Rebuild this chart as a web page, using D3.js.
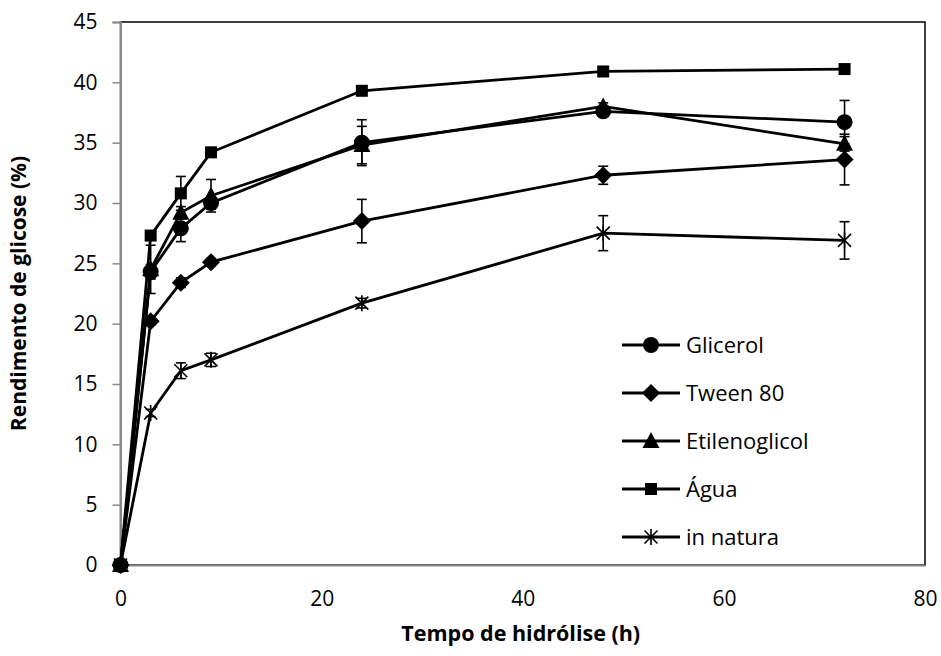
<!DOCTYPE html>
<html>
<head>
<meta charset="utf-8">
<script src="https://cdn.jsdelivr.net/npm/d3@7"></script>
<style>
  body { margin: 0; background: #fff; }
  svg text { font-family: "Open Sans", sans-serif; fill: #000; }
</style>
</head>
<body>
<div id="container"></div>
<script>
// hydrolysis time (h)
var hours = [0, 3, 6, 9, 24, 48, 72];

// glucose yield (%) and standard deviation per pretreatment
var glicerol      = [0, 24.3, 27.9, 30.0, 35.0, 37.6, 36.7];
var glicerolErr   = [0, 0.6, 1.1, 0.5, 1.9, 0.3, 1.8];
var tween         = [0, 20.2, 23.4, 25.1, 28.5, 32.3, 33.6];
var tweenErr      = [0, 0.3, 0.4, 0.3, 1.8, 0.75, 2.1];
var etileno       = [0, 24.5, 29.2, 30.6, 34.8, 38.0, 34.9];
var etilenoErr    = [0, 2.0, 0.5, 1.35, 1.55, 0.3, 0.6];
var agua          = [0, 27.3, 30.8, 34.2, 39.3, 40.9, 41.1];
var aguaErr       = [0, 0.3, 1.4, 0.2, 0.2, 0.2, 0.2];
var natura        = [0, 12.6, 16.1, 17.0, 21.7, 27.5, 26.9];
var naturaErr     = [0, 0.3, 0.65, 0.55, 0.4, 1.45, 1.55];

var seriesNames = ["Glicerol", "Tween 80", "Etilenoglicol", "Água", "in natura"];
var markers     = ["circle", "diamond", "triangle", "square", "star"];

var xTicks = [0, 20, 40, 60, 80];
var yTicks = [0, 5, 10, 15, 20, 25, 30, 35, 40, 45];

var series = [
  {name: seriesNames[0], marker: markers[0], y: glicerol, err: glicerolErr},
  {name: seriesNames[1], marker: markers[1], y: tween,    err: tweenErr},
  {name: seriesNames[2], marker: markers[2], y: etileno,  err: etilenoErr},
  {name: seriesNames[3], marker: markers[3], y: agua,     err: aguaErr},
  {name: seriesNames[4], marker: markers[4], y: natura,   err: naturaErr}
].map(function(s) {
  s.points = hours.map(function(h, i) { return {x: h, y: s.y[i], e: s.err[i]}; });
  return s;
});

var width = 941, height = 656;
var margin = {top: 22, right: 16, bottom: 91, left: 120.5};

var svg = d3.select("#container").append("svg")
  .attr("width", width)
  .attr("height", height);

var x = d3.scaleLinear().domain([0, 80]).range([margin.left, width - margin.right]);
var y = d3.scaleLinear().domain([0, 45]).range([height - margin.bottom, margin.top]);

var axisGray = "#888";

// plot area frame (top and right sides show black)
svg.append("rect")
  .attr("x", x(0)).attr("y", y(45))
  .attr("width", x(80) - x(0)).attr("height", y(0) - y(45))
  .attr("fill", "none").attr("stroke", "#000").attr("stroke-width", 1.5);

// y axis
var yAxis = svg.append("g")
  .attr("transform", "translate(" + x(0) + ",0)")
  .call(d3.axisLeft(y).tickValues(yTicks).tickSize(8).tickPadding(15));
yAxis.select(".domain").attr("stroke", axisGray).attr("stroke-width", 2);
yAxis.selectAll(".tick line").attr("stroke", axisGray).attr("stroke-width", 1.5);
yAxis.selectAll("text").style("font-size", "21px").attr("fill", "#000");

// x axis
var xAxis = svg.append("g")
  .attr("transform", "translate(0," + y(0) + ")")
  .call(d3.axisBottom(x).tickValues(xTicks).tickSize(0).tickPadding(26));
xAxis.select(".domain").attr("stroke", axisGray).attr("stroke-width", 2);
xAxis.selectAll("text").style("font-size", "21px").attr("fill", "#000");

// axis titles
svg.append("text")
  .attr("x", (x(0) + x(80)) / 2 - 2).attr("y", 641)
  .attr("text-anchor", "middle")
  .style("font-size", "21.5px").style("font-weight", "bold")
  .text("Tempo de hidrólise (h)");

svg.append("text")
  .attr("transform", "translate(26," + ((y(0) + y(45)) / 2) + ") rotate(-90)")
  .attr("text-anchor", "middle")
  .style("font-size", "21px").style("font-weight", "bold")
  .text("Rendimento de glicose (%)");

// marker shapes
function drawMarker(g, type) {
  if (type === "circle") {
    g.append("circle").attr("r", 8).attr("fill", "#000");
  } else if (type === "square") {
    g.append("rect").attr("x", -6).attr("y", -6).attr("width", 12).attr("height", 12).attr("fill", "#000");
  } else if (type === "diamond") {
    g.append("path").attr("d", "M0,-9L9,0L0,9L-9,0Z").attr("fill", "#000");
  } else if (type === "triangle") {
    g.append("path").attr("d", "M0,-9L8.5,7L-8.5,7Z").attr("fill", "#000");
  } else if (type === "star") {
    g.append("path").attr("d", "M-6.5,-6.5L6.5,6.5M-6.5,6.5L6.5,-6.5M0,-8L0,8")
      .attr("stroke", "#000").attr("stroke-width", 1.6).attr("fill", "none");
  }
}

var line = d3.line()
  .x(function(d) { return x(d.x); })
  .y(function(d) { return y(d.y); });

var capW = 5;

series.forEach(function(s) {
  var g = svg.append("g").attr("class", "series");

  // error bars
  var eb = g.selectAll(".err")
    .data(s.points.filter(function(d) { return d.e > 0; }))
    .enter().append("g")
    .attr("class", "err")
    .attr("stroke", "#000").attr("stroke-width", 1.6);
  eb.append("line")
    .attr("x1", function(d) { return x(d.x); }).attr("x2", function(d) { return x(d.x); })
    .attr("y1", function(d) { return y(d.y - d.e); }).attr("y2", function(d) { return y(d.y + d.e); });
  eb.append("line")
    .attr("x1", function(d) { return x(d.x) - capW; }).attr("x2", function(d) { return x(d.x) + capW; })
    .attr("y1", function(d) { return y(d.y + d.e); }).attr("y2", function(d) { return y(d.y + d.e); });
  eb.append("line")
    .attr("x1", function(d) { return x(d.x) - capW; }).attr("x2", function(d) { return x(d.x) + capW; })
    .attr("y1", function(d) { return y(d.y - d.e); }).attr("y2", function(d) { return y(d.y - d.e); });

  g.append("path")
    .datum(s.points)
    .attr("d", line)
    .attr("fill", "none")
    .attr("stroke", "#000")
    .attr("stroke-width", 2.8);

  g.selectAll(".pt")
    .data(s.points)
    .enter().append("g")
    .attr("class", "pt")
    .attr("transform", function(d) { return "translate(" + x(d.x) + "," + y(d.y) + ")"; })
    .each(function() { drawMarker(d3.select(this), s.marker); });
});

// legend
var legend = svg.append("g").attr("transform", "translate(622,345)");
var rows = legend.selectAll("g")
  .data(series)
  .enter().append("g")
  .attr("transform", function(d, i) { return "translate(0," + (i * 48) + ")"; });
rows.append("line")
  .attr("x1", 0).attr("x2", 58).attr("y1", 0).attr("y2", 0)
  .attr("stroke", "#000").attr("stroke-width", 2.8);
rows.append("g")
  .attr("transform", "translate(29,0)")
  .each(function(d) { drawMarker(d3.select(this), d.marker); });
rows.append("text")
  .attr("x", 64).attr("y", 0).attr("dy", "0.35em")
  .style("font-size", "22px")
  .text(function(d) { return d.name; });
</script>
</body>
</html>
